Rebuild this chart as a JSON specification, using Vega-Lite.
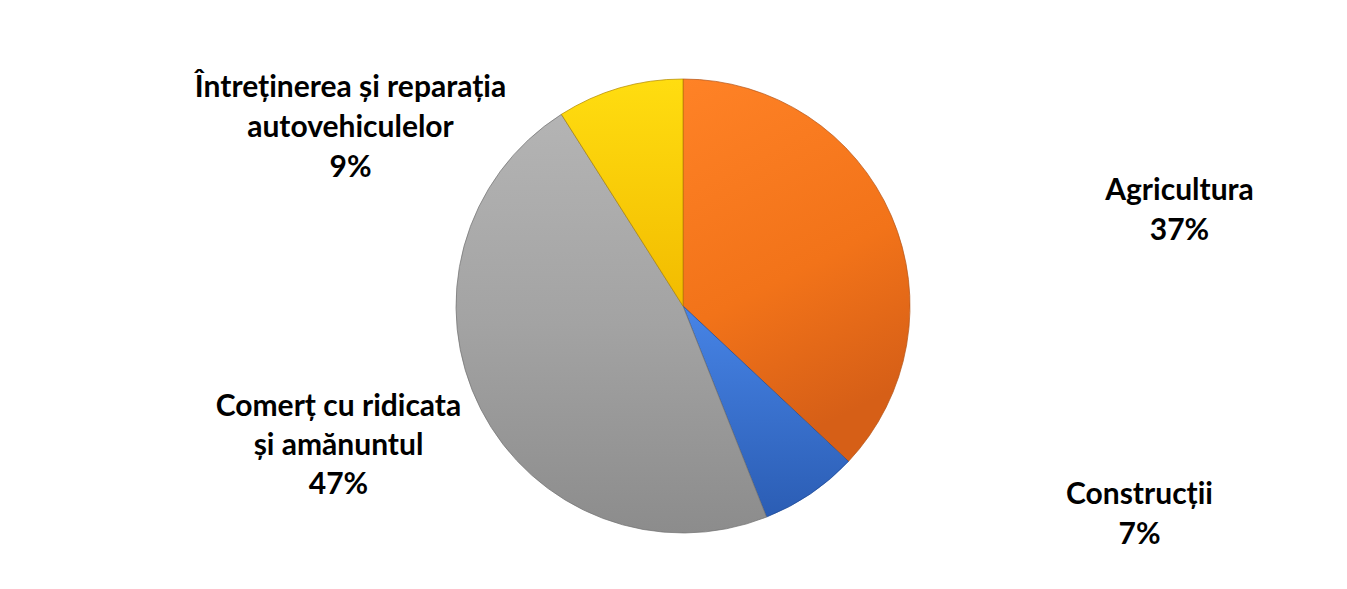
{
  "$schema": "https://vega.github.io/schema/vega-lite/v6.json",
  "width": 1347,
  "height": 589,
  "autosize": {"type": "fit", "contains": "padding"},
  "padding": {"left": 10, "top": 13, "right": 0, "bottom": 3},
  "background": "white",
  "config": {"view": {"stroke": "#d9d9d9", "strokeWidth": 1}},
  "data": {
    "values": [
      {"order": 1, "sector": "Agricultura", "value": 37},
      {"order": 2, "sector": "Construcții", "value": 7},
      {"order": 3, "sector": "Comerț cu ridicata\nși amănuntul", "value": 47},
      {"order": 4, "sector": "Întreținerea și reparația\nautovehiculelor", "value": 9}
    ]
  },
  "transform": [
    {"stack": "value", "groupby": [], "sort": [{"field": "order", "order": "ascending"}], "as": ["v0", "v1"]},
    {"calculate": "datum.sector + '\\n' + datum.value + '%'", "as": "label"}
  ],
  "encoding": {
    "theta": {"field": "v0", "type": "quantitative", "scale": {"domain": [0, 100]}},
    "theta2": {"field": "v1"}
  },
  "layer": [
    {
      "transform": [{"filter": "datum.order == 1"}],
      "mark": {"type": "arc", "outerRadius": 227, "xOffset": 4.5, "yOffset": 6.5, "stroke": "#b4561a", "strokeWidth": 1, "strokeOpacity": 0.7,
        "fill": {"gradient": "linear", "x1": 0, "y1": 0, "x2": 0.3, "y2": 1, "stops": [{"offset": 0, "color": "#ff8226"}, {"offset": 0.6, "color": "#f27319"}, {"offset": 1, "color": "#d65f17"}]}}
    },
    {
      "transform": [{"filter": "datum.order == 2"}],
      "mark": {"type": "arc", "outerRadius": 227, "xOffset": 4.5, "yOffset": 6.5, "stroke": "#1f4a94", "strokeWidth": 1, "strokeOpacity": 0.7,
        "fill": {"gradient": "linear", "x1": 0, "y1": 0, "x2": 0, "y2": 1, "stops": [{"offset": 0, "color": "#4784e6"}, {"offset": 1, "color": "#2b5db4"}]}}
    },
    {
      "transform": [{"filter": "datum.order == 3"}],
      "mark": {"type": "arc", "outerRadius": 227, "xOffset": 4.5, "yOffset": 6.5, "stroke": "#707070", "strokeWidth": 1, "strokeOpacity": 0.7,
        "fill": {"gradient": "linear", "x1": 0, "y1": 0, "x2": 0, "y2": 1, "stops": [{"offset": 0, "color": "#b4b4b4"}, {"offset": 0.5, "color": "#a3a3a3"}, {"offset": 1, "color": "#8c8c8c"}]}}
    },
    {
      "transform": [{"filter": "datum.order == 4"}],
      "mark": {"type": "arc", "outerRadius": 227, "xOffset": 4.5, "yOffset": 6.5, "stroke": "#b08800", "strokeWidth": 1, "strokeOpacity": 0.7,
        "fill": {"gradient": "linear", "x1": 0, "y1": 0, "x2": 0, "y2": 1, "stops": [{"offset": 0, "color": "#ffdd10"}, {"offset": 1, "color": "#f2bb00"}]}}
    },
    {
      "transform": [{"filter": "datum.order == 1"}],
      "mark": {"type": "text", "font": "Lato", "fontWeight": "bold", "fontSize": 30, "lineBreak": "\n", "lineHeight": 40, "color": "#000000", "align": "center", "baseline": "middle", "dx": 501, "dy": -109},
      "encoding": {"theta": null, "theta2": null, "text": {"field": "label"}}
    },
    {
      "transform": [{"filter": "datum.order == 2"}],
      "mark": {"type": "text", "font": "Lato", "fontWeight": "bold", "fontSize": 30, "lineBreak": "\n", "lineHeight": 40, "color": "#000000", "align": "center", "baseline": "middle", "dx": 461, "dy": 195},
      "encoding": {"theta": null, "theta2": null, "text": {"field": "label"}}
    },
    {
      "transform": [{"filter": "datum.order == 3"}],
      "mark": {"type": "text", "font": "Lato", "fontWeight": "bold", "fontSize": 30, "lineBreak": "\n", "lineHeight": 39, "color": "#000000", "align": "center", "baseline": "middle", "dx": -340, "dy": 107},
      "encoding": {"theta": null, "theta2": null, "text": {"field": "label"}}
    },
    {
      "transform": [{"filter": "datum.order == 4"}],
      "mark": {"type": "text", "font": "Lato", "fontWeight": "bold", "fontSize": 30, "lineBreak": "\n", "lineHeight": 40, "color": "#000000", "align": "center", "baseline": "middle", "dx": -328, "dy": -212},
      "encoding": {"theta": null, "theta2": null, "text": {"field": "label"}}
    }
  ]
}
